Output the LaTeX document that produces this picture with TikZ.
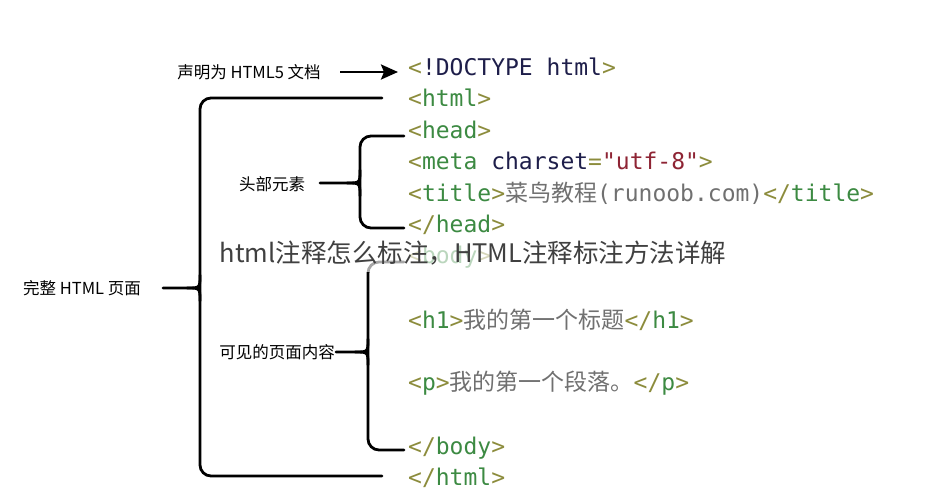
\documentclass[tikz,border=0pt]{standalone}
\usepackage{fontspec}
\setmonofont{DejaVu Sans Mono}
\newfontfamily\cjk{Noto Sans CJK SC}
\usetikzlibrary{arrows.meta}
\definecolor{brk}{HTML}{8C8C3C}
\definecolor{tagc}{HTML}{3C8A42}
\definecolor{navy}{HTML}{1E1E4A}
\definecolor{strc}{HTML}{8E2434}
\definecolor{txtc}{HTML}{707070}
\definecolor{wmc}{HTML}{404040}
\newcommand\lt{\textcolor{brk}{<}}
\newcommand\gt{\textcolor{brk}{>}}
\newcommand\ltsl{\textcolor{brk}{</}}
\newcommand\tg[1]{\textcolor{tagc}{#1}}
\newcommand\zh[1]{{\cjk #1}}
\begin{document}
\begin{tikzpicture}[x=1pt,y=1pt,
  codeline/.style={anchor=west,inner sep=0pt,font=\ttfamily\fontsize{23}{26}\selectfont},
  lbl/.style={inner sep=0pt,font=\cjk\fontsize{16.5}{19}\selectfont,text=black},
  brace/.style={line width=2.8pt,black,line cap=round},
  wm/.style={inner sep=0pt,font=\cjk\fontsize{25.5}{30}\selectfont,text=wmc}]
\useasboundingbox (0,0) rectangle (947,-490);
\fill[white] (0,0) rectangle (947,-490);

% code lines
\node[codeline] (doctype) at (408,-67) {\lt\textcolor{navy}{!DOCTYPE html}\gt};
\node[codeline] (html) at (408,-98) {\lt\tg{html}\gt};
\node[codeline] (head) at (408,-130) {\lt\tg{head}\gt};
\node[codeline] (meta) at (408,-161) {\lt\tg{meta} \textcolor{navy}{charset}\textcolor{brk}{=}\textcolor{strc}{"utf-8"}\gt};
\node[codeline] (title) at (408,-193) {\lt\tg{title}\gt\textcolor{txtc}{\zh{菜鸟教程}(runoob.com)}\ltsl\tg{title}\gt};
\node[codeline] (headend) at (408,-225) {\ltsl\tg{head}\gt};
\node[codeline] (body) at (408,-257) {\lt\tg{body}\gt};
\node[codeline] (h1) at (408,-320) {\lt\tg{h1}\gt\textcolor{txtc}{\zh{我的第一个标题}}\ltsl\tg{h1}\gt};
\node[codeline] (p) at (408,-383) {\lt\tg{p}\gt\textcolor{txtc}{\zh{我的第一个段落。}}\ltsl\tg{p}\gt};
\node[codeline] (bodyend) at (408,-448) {\ltsl\tg{body}\gt};
\node[codeline] (htmlend) at (408,-478) {\ltsl\tg{html}\gt};

% labels
\node[lbl] (decl) at (249,-72) {声明为 HTML5 文档};
\node[lbl] (headlbl) at (272,-184) {头部元素};
\node[lbl] (page) at (82,-288) {完整 HTML 页面};
\node[lbl,anchor=east] (vis) at (335,-352) {可见的页面内容};

% arrow
\coordinate (arS) at (340,-72);
\coordinate (arE) at (398,-72);
\draw[line width=2.6pt,-{Stealth[length=17pt,width=15pt,inset=3pt]}] (arS) -- (arE);

% big brace
\coordinate (bT) at (382,-98);
\coordinate (bB) at (382,-476);
\coordinate (bTip) at (163,-288);
\draw[brace,rounded corners=11pt] (bT) -- (200,-98) -- (200,-476) -- (bB);
\draw[brace] (bTip) -- (187,-288) .. controls (200,-288) .. (200,-275);
\draw[brace] (187,-288) .. controls (200,-288) .. (200,-301);

% head brace
\coordinate (hT) at (404,-136);
\coordinate (hB) at (404,-228);
\coordinate (hTip) at (320,-183);
\draw[brace,rounded corners=11pt] (hT) -- (360,-136) -- (360,-228) -- (hB);
\draw[brace] (hTip) -- (347,-183) .. controls (360,-183) .. (360,-170);
\draw[brace] (347,-183) .. controls (360,-183) .. (360,-196);

% body brace
\coordinate (yT) at (404,-262);
\coordinate (yB) at (404,-450);
\coordinate (yTip) at (336,-352);
\draw[brace,rounded corners=11pt] (yT) -- (368,-262) -- (368,-450) -- (yB);
\draw[brace] (yTip) -- (355,-352) .. controls (368,-352) .. (368,-339);
\draw[brace] (355,-352) .. controls (368,-352) .. (368,-365);

% watermark
\fill[white,opacity=0.65] (214,-238) rectangle (732,-272);
\node[wm] (wmk) at (473,-253) {html注释怎么标注，HTML注释标注方法详解};
\end{tikzpicture}
\end{document}
